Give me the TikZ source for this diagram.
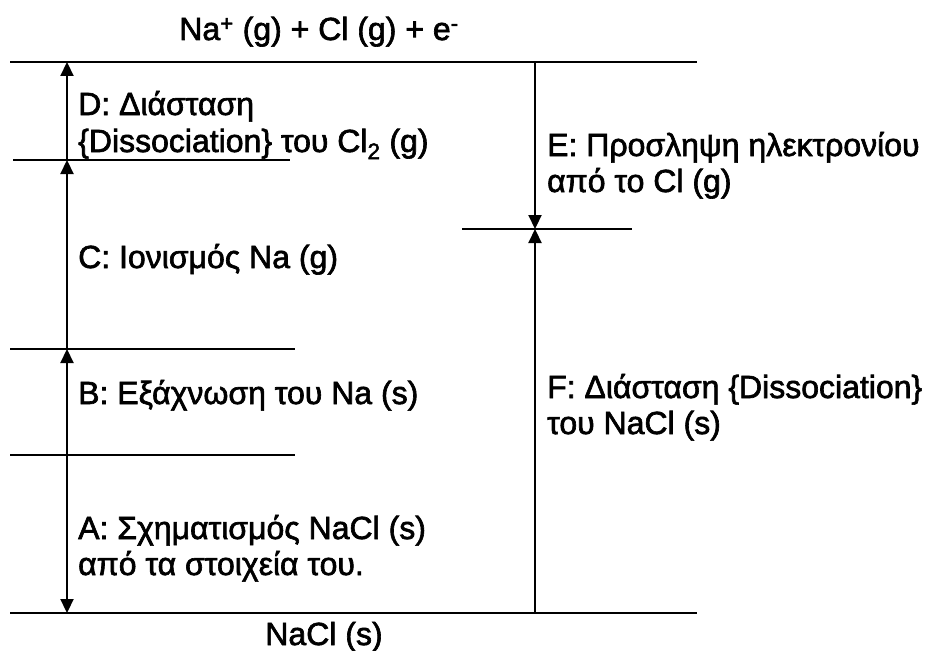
\documentclass[tikz,border=0pt]{standalone}
\usepackage{fontspec}
\setmainfont{Liberation Sans}[FakeBold=2]
\usetikzlibrary{arrows.meta}
\begin{document}
\begin{tikzpicture}[x=1pt,y=-1pt,
  level/.style={line width=2.5pt},
  energy/.style={line width=2.2pt,-{Triangle[length=14pt,width=13pt]}},
  lbl/.style={anchor=base west,inner sep=0pt,font=\fontsize{32}{38}\selectfont},
  ttl/.style={anchor=base,inner sep=0pt,font=\fontsize{32}{38}\selectfont},
]
\fill[white] (0,0) rectangle (933,650);
\useasboundingbox (0,0) rectangle (933,650);
% level line ends
\coordinate (topL) at (10,62);   \coordinate (topR) at (697,62);
\coordinate (dcL) at (13,160);   \coordinate (dcR) at (290,160);
\coordinate (cbL) at (10,349);   \coordinate (cbR) at (295,349);
\coordinate (baL) at (10,455);   \coordinate (baR) at (295,455);
\coordinate (botL) at (10,613);  \coordinate (botR) at (697,613);
\coordinate (efL) at (462,229);  \coordinate (efR) at (632,229);
% arrow points
\coordinate (l0) at (67,62);
\coordinate (l1) at (67,160);
\coordinate (l2) at (67,349);
\coordinate (l3) at (67,455);
\coordinate (l4) at (67,613);
\coordinate (r0) at (535,62);
\coordinate (r1) at (535,229);
\coordinate (r2) at (535,613);
% levels
\draw[level] (topL) -- (topR);
\draw[level] (dcL) -- (dcR);
\draw[level] (cbL) -- (cbR);
\draw[level] (baL) -- (baR);
\draw[level] (botL) -- (botR);
\draw[level] (efL) -- (efR);
% arrows
\draw[energy] (l3) -- (l4);
\draw[energy] (l3) -- (l2);
\draw[energy] (l2) -- (l1);
\draw[energy] (l1) -- (l0);
\draw[energy] (r0) -- (r1);
\draw[energy] (r2) -- (r1);
% texts
\node[ttl] (top) at (319,40) {Na\textsuperscript{+} (g) + Cl (g) + e\textsuperscript{-}};
\node[ttl] (bot) at (324,645) {NaCl (s)};
\node[lbl] (d1) at (78,115) {D: Διάσταση};
\node[lbl] (d2) at (78,152) {\{Dissociation\} του Cl\textsubscript{2} (g)};
\node[lbl] (c1) at (78,268) {C: Ιονισμός Na (g)};
\node[lbl] (b1) at (78,404) {B: Εξάχνωση του Na (s)};
\node[lbl] (a1) at (78,539) {A: Σχηματισμός NaCl (s)};
\node[lbl] (a2) at (78,575) {από τα στοιχεία του.};
\node[lbl] (e1) at (547,156) {E: Προσληψη ηλεκτρονίου};
\node[lbl] (e2) at (547,192) {από το Cl (g)};
\node[lbl] (f1) at (547,398) {F: Διάσταση \{Dissociation\}};
\node[lbl] (f2) at (547,434) {του NaCl (s)};
\end{tikzpicture}
\end{document}
